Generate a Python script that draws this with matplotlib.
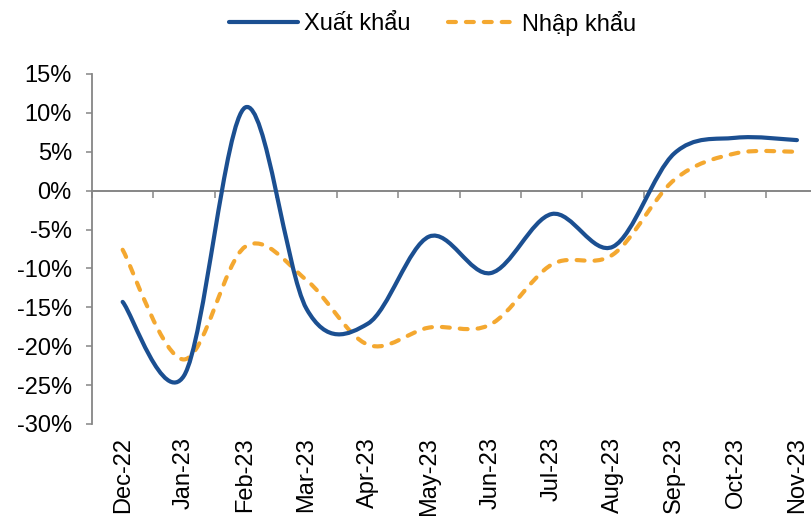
import numpy as np
import matplotlib
matplotlib.use("Agg")
import matplotlib.pyplot as plt
from matplotlib.path import Path
from matplotlib.patches import PathPatch
from matplotlib.lines import Line2D

plt.rcParams['font.family'] = ['Liberation Sans', 'DejaVu Sans']

months = ["Dec-22", "Jan-23", "Feb-23", "Mar-23", "Apr-23", "May-23",
          "Jun-23", "Jul-23", "Aug-23", "Sep-23", "Oct-23", "Nov-23"]
xuat_khau = [-14.3, -23.8, 10.7, -15.2, -17.1, -5.9, -10.6, -3.0, -7.2, 4.8, 6.8, 6.5]
nhap_khau = [-7.6, -21.7, -7.2, -11.5, -19.8, -17.6, -17.2, -9.5, -8.2, 1.4, 4.8, 5.0]
y_ticks = [-30, -25, -20, -15, -10, -5, 0, 5, 10, 15]

BLUE = "#1B4F91"
ORANGE = "#F4A830"
GRAY = "#868686"
FS = 17


def smooth_path(xs, ys):
    pts = np.column_stack([xs, ys]).astype(float)
    n = len(pts)
    verts = [pts[0]]
    codes = [Path.MOVETO]
    for i in range(n - 1):
        p0 = pts[i - 1] if i > 0 else pts[i]
        p1 = pts[i]
        p2 = pts[i + 1]
        p3 = pts[i + 2] if i + 2 < n else pts[i + 1]
        c1 = p1 + (p2 - p0) / 6.0
        c2 = p2 - (p3 - p1) / 6.0
        verts += [c1, c2, p2]
        codes += [Path.CURVE4] * 3
    return Path(verts, codes)


fig = plt.figure(figsize=(8.12, 5.16), dpi=100)
ax = fig.add_axes([92 / 812, 92 / 516, 735.6 / 812, 350 / 516])

x = np.arange(len(months))
ax.add_patch(PathPatch(smooth_path(x, xuat_khau), fill=False, edgecolor=BLUE,
                       linewidth=3.0, capstyle='round', joinstyle='round', zorder=4))
ax.add_patch(PathPatch(smooth_path(x, nhap_khau), fill=False, edgecolor=ORANGE,
                       linewidth=3.0, linestyle=(0, (1.9, 2.4)), capstyle='round',
                       joinstyle='round', zorder=3))

ax.set_xlim(-0.5, len(months) - 0.5)
ax.set_ylim(-30, 15)
ax.set_yticks(y_ticks)
ax.set_yticklabels([f"{v}%" for v in y_ticks], fontsize=FS)
ax.tick_params(axis='y', direction='out', length=4.5, width=1.1, color=GRAY, pad=10)

for s in ['top', 'right']:
    ax.spines[s].set_visible(False)
ax.spines['left'].set_color(GRAY)
ax.spines['left'].set_linewidth(1.3)
ax.spines['bottom'].set_position(('data', 0))
ax.spines['bottom'].set_color(GRAY)
ax.spines['bottom'].set_linewidth(1.4)

ax.set_xticks(np.arange(-0.5, len(months), 1.0))
ax.tick_params(axis='x', labelbottom=False, direction='out', length=5, width=1.1, color=GRAY)

sec = ax.secondary_xaxis(0.0)
sec.set_xticks(x)
sec.set_xticklabels(months, rotation=90, fontsize=FS)
sec.tick_params(axis='x', length=0, pad=9.5)
sec.spines['bottom'].set_visible(False)

handles = [
    Line2D([0], [0], color=BLUE, linewidth=3.0, solid_capstyle='round'),
    Line2D([0], [0], color=ORANGE, linewidth=3.0, linestyle=(0, (1.9, 2.4)),
           dash_capstyle='round'),
]
fig.legend(handles, ["Xuất khẩu", "Nhập khẩu"], loc='center',
           bbox_to_anchor=(433 / 812, 1 - 23 / 516), ncol=2, frameon=False,
           fontsize=FS, handlelength=2.9, handletextpad=0.25, columnspacing=1.6)

fig.savefig("out.png", dpi=100)
